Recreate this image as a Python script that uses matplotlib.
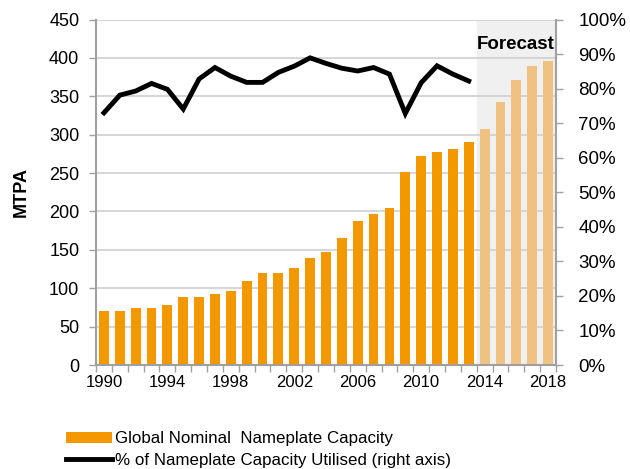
import numpy as np
import matplotlib
matplotlib.use("Agg")
import matplotlib.pyplot as plt
from matplotlib.patches import Patch
from matplotlib.lines import Line2D

plt.rcParams["font.family"] = ["Liberation Sans", "DejaVu Sans"]

# ── Данные ──────────────────────────────────────────────────────────────────
YEARS = list(range(1990, 2019))
CAPACITY = [70, 70, 74, 74, 78, 89, 89, 93, 97, 109,
            120, 120, 126, 139, 147, 165, 187, 197, 205, 251,
            272, 277, 282, 290, 307, 342, 371, 390, 396]
UTIL_YEARS = list(range(1990, 2014))
UTILISED = [73.0, 78.1, 79.3, 81.5, 79.8, 74.1, 82.8, 86.1, 83.6, 81.8,
            81.8, 84.7, 86.5, 88.9, 87.3, 85.9, 85.1, 86.1, 84.2, 72.8,
            81.7, 86.6, 84.2, 82.2]
FORECAST_FROM = 2014
XTICKS = [1990, 1994, 1998, 2002, 2006, 2010, 2014, 2018]

ORANGE = "#f39800"
ORANGE_LIGHT = "#efc281"
GRID = "#d0d0d0"
SPINE = "#a0a0a0"

fig = plt.figure(figsize=(6.3, 4.69), dpi=100)
ax = fig.add_axes([0.1524, 0.2217, 0.7301, 0.7367])

# зона прогноза
ax.axvspan(FORECAST_FROM - 0.5, YEARS[-1] + 0.5, color="#f0f0f0", zorder=0)

colors = [ORANGE if y < FORECAST_FROM else ORANGE_LIGHT for y in YEARS]
ax.bar(YEARS, CAPACITY, width=0.62, color=colors, edgecolor="none", zorder=2)

ax.set_xlim(YEARS[0] - 0.5, YEARS[-1] + 0.5)
ax.set_ylim(0, 450)
ax.set_yticks(np.arange(0, 451, 50))
ax.yaxis.grid(True, color=GRID, lw=1.2, zorder=1)
ax.set_axisbelow(True)

ax.set_xticks(XTICKS)
ax.set_xticks(np.arange(YEARS[0] - 0.5, YEARS[-1] + 1.0, 1), minor=True)
ax.tick_params(axis="x", which="major", length=0, labelsize=12, pad=7)
ax.tick_params(axis="x", which="minor", length=5, color=SPINE, width=1)
ax.tick_params(axis="y", length=5, color=SPINE, width=1, labelsize=13, pad=7)
ax.set_ylabel("MTPA", fontsize=13, fontweight="bold", labelpad=14)

for side in ["top", "right"]:
    ax.spines[side].set_visible(False)
for side in ["left", "bottom"]:
    ax.spines[side].set_color(SPINE)
    ax.spines[side].set_linewidth(1.5)

ax.text(YEARS[-1] + 0.4, 417, "Forecast", fontsize=13.5, fontweight="bold",
        ha="right", va="center", zorder=5)

# правая ось
ax2 = ax.twinx()
ax2.plot(UTIL_YEARS, UTILISED, color="black", lw=3.5, zorder=4,
         solid_joinstyle="miter")
ax2.set_ylim(0, 100)
ax2.set_yticks(np.arange(0, 101, 10))
ax2.set_yticklabels([f"{v}%" for v in range(0, 101, 10)])
ax2.tick_params(axis="y", length=5, color=SPINE, width=1, labelsize=13.5, pad=11)
for side in ["top", "left", "bottom"]:
    ax2.spines[side].set_visible(False)
ax2.spines["right"].set_color(SPINE)
ax2.spines["right"].set_linewidth(1.5)

handles = [Patch(facecolor=ORANGE, edgecolor="none"),
           Line2D([0], [0], color="black", lw=3.5)]
labels = ["Global Nominal  Nameplate Capacity",
          "% of Nameplate Capacity Utilised (right axis)"]
fig.legend(handles, labels, loc="upper left", bbox_to_anchor=(0.105, 0.080),
           frameon=False, fontsize=12.2, handlelength=2.7, handletextpad=0.2,
           labelspacing=0.4, borderpad=0, borderaxespad=0)

fig.savefig("out.png", dpi=100)
plt.close(fig)
